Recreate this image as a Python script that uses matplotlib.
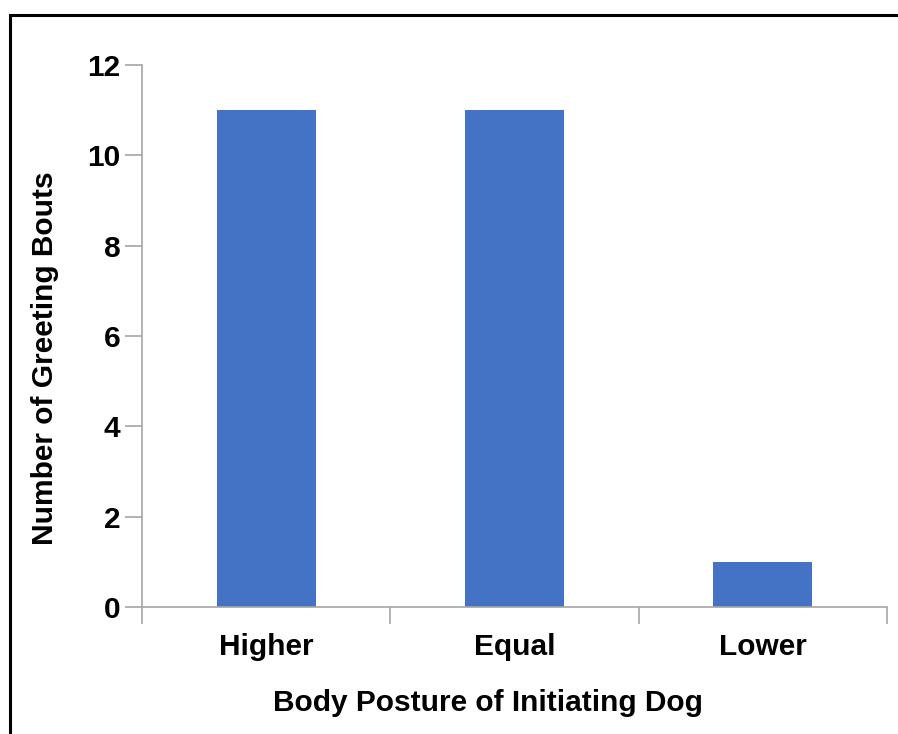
import matplotlib.pyplot as plt
from matplotlib.patches import Rectangle

#data
categories = ['Higher', 'Equal', 'Lower']
bouts = [11, 11, 1]

plt.rcParams['font.family'] = ['Liberation Sans', 'DejaVu Sans']
fs = 21.5

fig = plt.figure(figsize=(8.98, 7.34), dpi=100)
ax = fig.add_axes([142/898, 1 - 607/734, (887 - 142)/898, (607 - 65)/734])

#bars centred in each category slot
pos = [i + 0.5 for i in range(len(categories))]
ax.bar(pos, bouts, width=0.4, color='#4472C4', zorder=2)

ax.set_xlim(0, len(categories))
ax.set_ylim(0, 12)
ax.set_yticks(range(0, 13, 2))

#boundary ticks without labels, labels on minor ticks
ax.set_xticks(range(len(categories) + 1))
ax.set_xticklabels([])
ax.set_xticks(pos, minor=True)
ax.set_xticklabels(categories, minor=True, fontsize=fs, fontweight='bold')
ax.tick_params(axis='x', which='major', length=12, color='#a6a6a6', width=1.2)
ax.tick_params(axis='x', which='minor', length=0, pad=19)
ax.tick_params(axis='y', length=12, color='#a6a6a6', width=1.2, pad=3.5,
               labelsize=fs)
for lbl in ax.get_yticklabels():
    lbl.set_fontweight('bold')

for s in ['top', 'right']:
    ax.spines[s].set_visible(False)
for s in ['left', 'bottom']:
    ax.spines[s].set_color('#a6a6a6')
    ax.spines[s].set_linewidth(1.2)

#axis labels
fig.text(488/898, 1 - 703/734, 'Body Posture of Initiating Dog',
         ha='center', va='center', fontsize=fs, fontweight='bold')
fig.text(45/898, 1 - 358/734, 'Number of Greeting Bouts', rotation=90,
         ha='center', va='center', fontsize=fs, fontweight='bold')

#outer frame
fig.patches.append(Rectangle((9.5/898, -0.05), 1.2, 1.05 - 14.5/734,
                             transform=fig.transFigure, fill=False,
                             edgecolor='black', linewidth=2.2))

fig.savefig('out.png', dpi=100)
